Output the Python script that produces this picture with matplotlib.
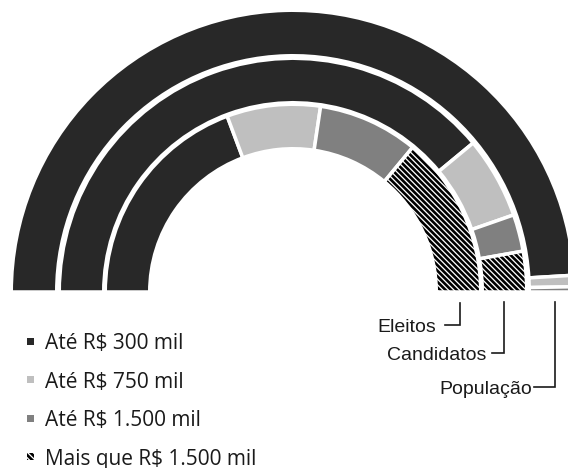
import matplotlib
matplotlib.use("Agg")
import matplotlib.pyplot as plt
from matplotlib.patches import Wedge, Rectangle

# ---- data ----
categories = ["Até R$ 300 mil", "Até R$ 750 mil", "Até R$ 1.500 mil", "Mais que R$ 1.500 mil"]
rings = ["Eleitos", "Candidatos", "População"]
eleitos = [38.6, 16.1, 17.3, 28.0]
candidatos = [78.0, 11.3, 5.1, 5.6]
populacao = [98.1, 1.3, 0.6, 0.0]

colors = ["#282828", "#bfbfbf", "#808080", "white"]
hatches = [None, None, None, "\\\\\\\\\\\\"]

plt.rcParams["hatch.linewidth"] = 1.9
plt.rcParams["hatch.color"] = "black"

W, H = 568, 468
fig = plt.figure(figsize=(W / 100, H / 100), dpi=100)
ax = fig.add_axes([0, 0, 1, 1])
ax.set_xlim(0, W)
ax.set_ylim(0, H)
ax.axis("off")

cx, cy = 293, H - 292
sep = 3.5  # px
lw = sep * 72 / 100
ring_bounds = {  # visible inner/outer radii
    "Eleitos": (145, 186),
    "Candidatos": (191, 232),
    "População": (238, 280),
}
data = {"Eleitos": eleitos, "Candidatos": candidatos, "População": populacao}

for ring in rings:
    r_in, r_out = ring_bounds[ring]
    r_in -= sep / 2
    r_out += sep / 2
    vals = data[ring]
    cum = 0.0
    for v, c, h in zip(vals, colors, hatches):
        if v <= 0:
            continue
        t2 = 180 - cum * 1.8
        t1 = 180 - (cum + v) * 1.8
        cum += v
        if h:
            ax.add_patch(Wedge((cx, cy), r_out, t1, t2, width=r_out - r_in,
                               facecolor="white", edgecolor="black", hatch=h, linewidth=0))
            ax.add_patch(Wedge((cx, cy), r_out, t1, t2, width=r_out - r_in,
                               fill=False, edgecolor="white", linewidth=lw))
        else:
            ax.add_patch(Wedge((cx, cy), r_out, t1, t2, width=r_out - r_in,
                               facecolor=c, edgecolor="white", linewidth=lw))

# ---- ring labels with leader lines ----
label_font = dict(family="Liberation Sans", fontsize=14, color="#1a1a1a")
# (line x, line top y, line bottom y, line end x, text right x)
leaders = {
    "Eleitos": (460, 303, 325, 445, 436),
    "Candidatos": (504, 302, 353, 492, 486),
    "População": (555, 302, 387, 534, 532),
}
for name, (lx, y0, y1, xe, tx) in leaders.items():
    ax.plot([lx, lx, xe], [H - y0, H - y1, H - y1], color="#1a1a1a", lw=1.2,
            solid_joinstyle="miter")
    ax.text(tx, H - y1, name, ha="right", va="center_baseline", **label_font)

# ---- legend (manual) ----
row_y = [341, 379.5, 418, 456.5]
for cat, c, h, y in zip(categories, colors, hatches, row_y):
    if h:
        ax.add_patch(Rectangle((27, H - y - 3.5), 7, 7, facecolor="white",
                               edgecolor="black", hatch=h, linewidth=0))
    else:
        ax.add_patch(Rectangle((27, H - y - 3.5), 7, 7, facecolor=c, edgecolor="none"))
    ax.text(45, H - y, cat, ha="left", va="center_baseline", family="Open Sans",
            fontsize=15, color="#1a1a1a")

fig.savefig("out.png", dpi=100, facecolor="white")
